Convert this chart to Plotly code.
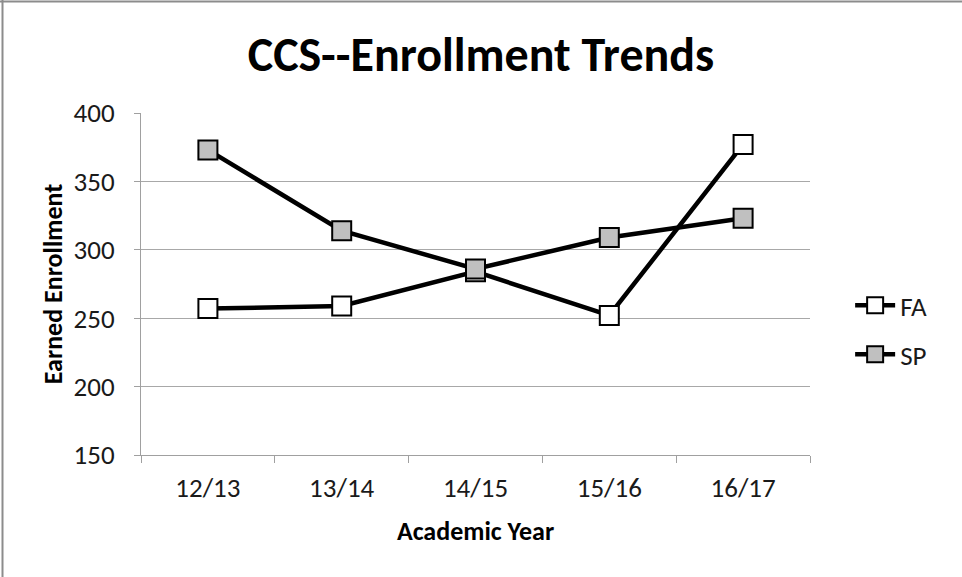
import plotly.graph_objects as go

years = ["12/13", "13/14", "14/15", "15/16", "16/17"]
fa = [257, 259, 284, 252, 377]
sp = [373, 314, 286, 309, 323]
y_ticks = [150, 200, 250, 300, 350, 400]

FONT = "Carlito, Calibri, Lato, 'Open Sans', sans-serif"
TXT = "#1a1a1a"

fig = go.Figure()
fig.add_trace(go.Scatter(
    x=years, y=fa, name="FA", mode="lines+markers", legendgroup="fa",
    line=dict(color="black", width=4.5),
    marker=dict(symbol="square", size=19, color="white", line=dict(color="black", width=2)),
))
fig.add_trace(go.Scatter(
    x=years, y=sp, name="SP", mode="lines+markers", legendgroup="sp",
    line=dict(color="black", width=4.5),
    marker=dict(symbol="square", size=19, color="#c0c0c0", line=dict(color="black", width=2)),
))

fig.update_layout(
    width=962, height=577,
    margin=dict(l=141, r=152, t=113, b=122),
    paper_bgcolor="white", plot_bgcolor="white",
    font=dict(family=FONT, color=TXT, size=27),
    title=dict(text="<b>CCS--Enrollment Trends</b>", x=0.5, xanchor="center",
               y=1 - 54 / 577, yanchor="middle",
               font=dict(size=48, family=FONT, color="black")),
    showlegend=True,
    legend=dict(x=1.06, xanchor="left", y=0.365, yanchor="middle",
                font=dict(size=27, family=FONT, color=TXT),
                tracegroupgap=11, itemwidth=40, bgcolor="rgba(0,0,0,0)"),
    xaxis=dict(
        type="category", range=[-0.5, 4.5],
        showgrid=False, showline=True, linecolor="#a0a0a0", linewidth=1,
        ticks="outside", tickson="boundaries", ticklen=7, tickcolor="#a0a0a0",
        ticklabelstandoff=9,
        tickfont=dict(size=27, family=FONT, color=TXT),
        title=dict(text="<b>Academic Year</b>", font=dict(size=26, family=FONT, color="black"),
                   standoff=18),
    ),
    yaxis=dict(
        range=[150, 400], tickvals=y_ticks,
        showgrid=True, gridcolor="#a8a8a8", gridwidth=1,
        showline=True, linecolor="#a0a0a0", linewidth=1,
        ticks="outside", ticklen=6, tickcolor="#a0a0a0",
        ticklabelstandoff=14,
        tickfont=dict(size=27, family=FONT, color=TXT),
        title=dict(text="<b>Earned Enrollment</b>", font=dict(size=26, family=FONT, color="black"),
                   standoff=3),
        zeroline=False,
    ),
)

# outer chart frame (top and left edges visible)
fig.add_shape(type="line", xref="paper", yref="paper",
              x0=-141/669, x1=(962-141)/669, y0=1 + 111.5/342, y1=1 + 111.5/342,
              line=dict(color="#8c8c8c", width=2))
fig.add_shape(type="line", xref="paper", yref="paper",
              x0=-138.5/669, x1=-138.5/669, y0=-122/342, y1=1 + 113/342,
              line=dict(color="#8c8c8c", width=2))

fig.write_html("out.html")
